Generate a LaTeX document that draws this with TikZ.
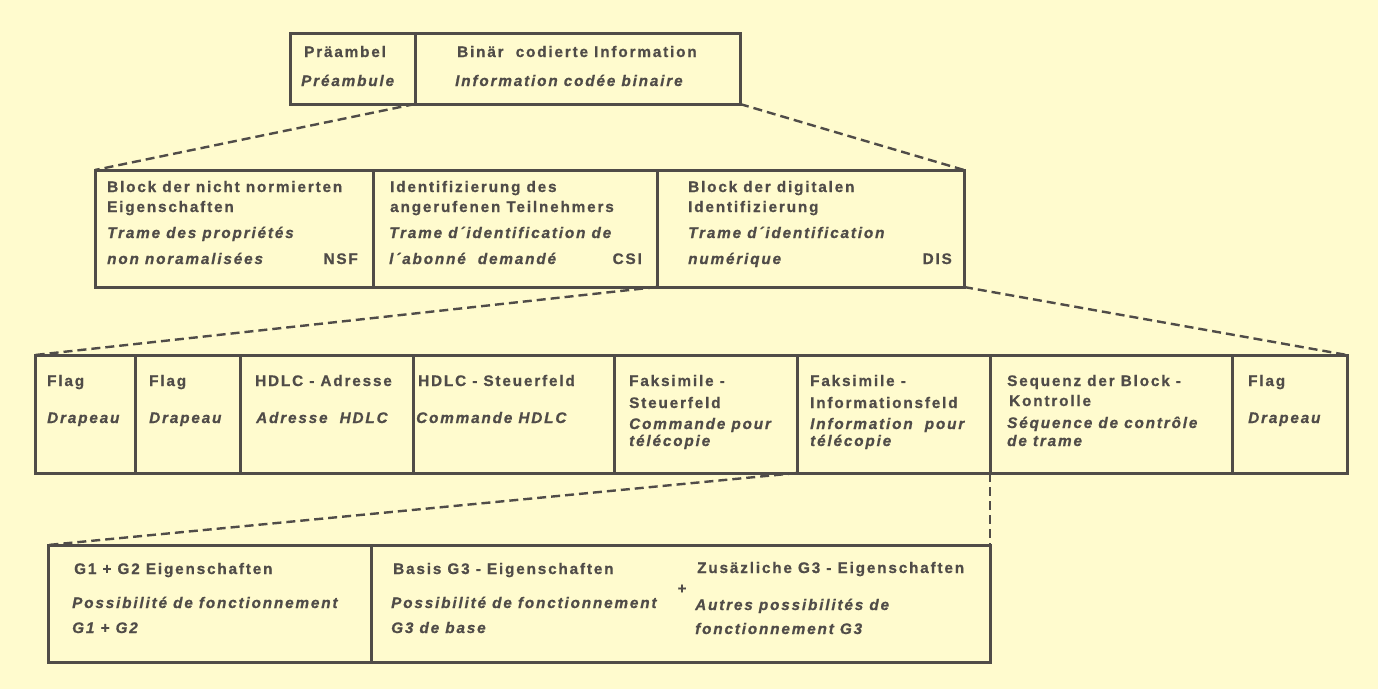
\documentclass[tikz,border=0pt]{standalone}
\usepackage{fontspec}
\setmainfont{Liberation Sans}[LetterSpace=12,FakeBold=0.8]
\usetikzlibrary{fit}
\definecolor{bg}{RGB}{255,251,206}
\definecolor{ink}{RGB}{80,76,72}
\tikzset{
  cell/.style={draw=ink, line width=3pt, inner sep=0pt, outer sep=0pt},
  conn/.style={draw=ink, line width=2.4pt, dash pattern=on 9pt off 5pt},
  de/.style={text=ink, inner sep=0pt, anchor=base west, font=\fontsize{15.3}{18}\selectfont\bfseries},
  fr/.style={text=ink, inner sep=0pt, anchor=base west, font=\fontsize{15.3}{18}\selectfont\bfseries\itshape},
}
\newcommand\mkcell[5]{\node[cell, fit={(#2,#3) (#4,#5)}] (#1) {};}
\newcommand\mkde[4]{\node[de] (#1) at (#2,#3) {#4};}
\newcommand\mkfr[4]{\node[fr] (#1) at (#2,#3) {#4};}
\begin{document}
\begin{tikzpicture}[x=1pt,y=-1pt]
\fill[bg] (0,0) rectangle (1378,689);
\useasboundingbox (0,0) rectangle (1378,689);
% cells
\mkcell{pre}{290}{33}{415}{104}
\mkcell{bin}{415}{33}{740}{104}
\mkcell{nsf}{95}{170}{373}{287}
\mkcell{csi}{373}{170}{657}{287}
\mkcell{dis}{657}{170}{964}{287}
\mkcell{ca}{35}{355}{135}{473}
\mkcell{cb}{135}{355}{240}{473}
\mkcell{cc}{240}{355}{413}{473}
\mkcell{cd}{413}{355}{614}{473}
\mkcell{ce}{614}{355}{797}{473}
\mkcell{cf}{797}{355}{990}{473}
\mkcell{cg}{990}{355}{1232}{473}
\mkcell{ch}{1232}{355}{1347}{473}
\mkcell{gl}{48}{545}{371}{662}
\mkcell{gr}{371}{545}{990}{662}
% connectors
\draw[conn] (bin.south west) -- (nsf.north west);
\draw[conn] (bin.south east) -- (dis.north east);
\draw[conn] (dis.south west) -- (ca.north west);
\draw[conn] (dis.south east) -- (ch.north east);
\draw[conn] (cf.south west) -- (gl.north west);
\draw[conn] (cg.south west) -- (gr.north east);
% top texts
\mkde{pa}{304}{57}{Präambel}
\mkfr{pb}{301}{86}{Préambule}
\mkde{ba}{457}{57}{Binär\hspace{6pt} codierte Information}
\mkfr{bb}{455}{86}{Information codée binaire}
% level 2
\mkde{na}{107}{192}{Block der nicht normierten}
\mkde{nb}{107}{212}{Eigenschaften}
\mkfr{nc}{107}{238}{Trame des propriétés}
\mkfr{nd}{107}{264}{non noramalisées}
\node[de, anchor=base east] (ne) at (358,264) {NSF};
\mkde{sa}{390}{192}{Identifizierung des}
\mkde{sb}{390}{212}{angerufenen Teilnehmers}
\mkfr{sc}{389}{238}{Trame d´identification de}
\mkfr{sd}{389}{264}{l´abonné\hspace{6pt} demandé}
\node[de, anchor=base east] (se) at (642,264) {CSI};
\mkde{da}{688}{192}{Block der digitalen}
\mkde{db}{688}{212}{Identifizierung}
\mkfr{dc}{688}{238}{Trame d´identification}
\mkfr{dd}{688}{264}{numérique}
\node[de, anchor=base east] (de) at (952,264) {DIS};
% level 3
\mkde{aa}{47}{386}{Flag}
\mkfr{ab}{47}{423}{Drapeau}
\mkde{ba3}{149}{386}{Flag}
\mkfr{bb3}{149}{423}{Drapeau}
\mkde{ca3}{255}{386}{HDLC - Adresse}
\mkfr{cb3}{256}{423}{Adresse\hspace{6pt} HDLC}
\mkde{da3}{418}{386}{HDLC - Steuerfeld}
\mkfr{db3}{416}{423}{Commande HDLC}
\mkde{ea3}{629}{386}{Faksimile -}
\mkde{eb3}{629}{408}{Steuerfeld}
\mkfr{ec3}{629}{429}{Commande pour}
\mkfr{ed3}{629}{446}{télécopie}
\mkde{fa3}{810}{386}{Faksimile -}
\mkde{fb3}{810}{408}{Informationsfeld}
\mkfr{fc3}{810}{429}{Information\hspace{6pt} pour}
\mkfr{fd3}{810}{446}{télécopie}
\mkde{ga3}{1007}{386}{Sequenz der Block -}
\mkde{gb3}{1009}{406}{Kontrolle}
\mkfr{gc3}{1007}{428}{Séquence de contrôle}
\mkfr{gd3}{1007}{446}{de trame}
\mkde{ha3}{1248}{386}{Flag}
\mkfr{hb3}{1248}{423}{Drapeau}
% level 4
\mkde{la}{74}{574}{G1 + G2 Eigenschaften}
\mkfr{lb}{72}{608}{Possibilité de fonctionnement}
\mkfr{lc}{72}{633}{G1 + G2}
\mkde{ra}{393}{574}{Basis G3 - Eigenschaften}
\mkfr{rb}{391}{608}{Possibilité de fonctionnement}
\mkfr{rc}{391}{633}{G3 de base}
\node[de, font=\fontsize{15}{16}\selectfont\bfseries, anchor=center] (plus) at (682,589) {+};
\mkde{za}{697}{573}{Zusäzliche G3 - Eigenschaften}
\mkfr{zb}{695}{610}{Autres possibilités de}
\mkfr{zc}{695}{634}{fonctionnement G3}
\end{tikzpicture}
\end{document}
